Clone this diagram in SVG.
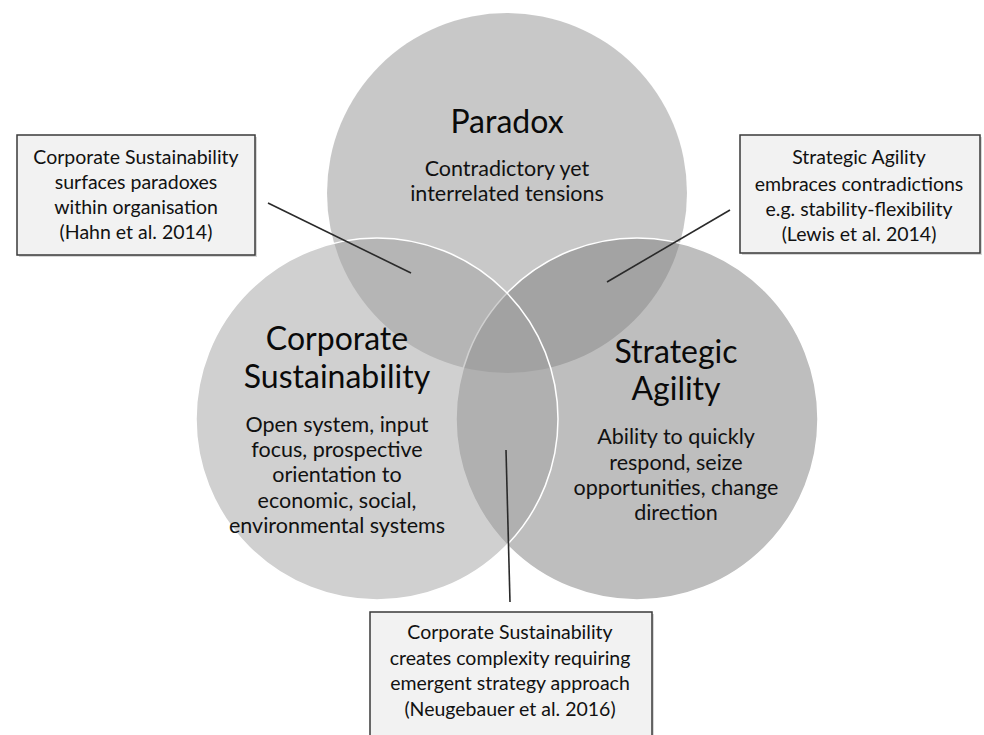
<svg xmlns="http://www.w3.org/2000/svg" width="984" height="735" viewBox="0 0 984 735">
<style>
  .circle { stroke: #ffffff; stroke-width: 1.5; fill-opacity: 0.5; }
  .title { font-family: Lato, "Open Sans", sans-serif; font-size: 32px; fill: #0a0a0a; text-anchor: middle; }
  .body { font-family: Lato, "Open Sans", sans-serif; font-size: 21.5px; fill: #111; text-anchor: middle; }
  .note { font-family: Lato, "Open Sans", sans-serif; font-size: 19.5px; fill: #111; text-anchor: middle; }
  .box { fill: #f2f2f2; stroke: #3a3a3a; stroke-width: 1.5; }
  .shadow { fill: #bdbdbd; opacity: 0.6; }
  .conn { stroke: #2a2a2a; stroke-width: 1.6; fill: none; }
</style>
<rect width="984" height="735" fill="#ffffff"/>
<g id="paradox">
  <circle cx="507" cy="193" r="180" fill="#919191" fill-opacity="0.5"/>
</g>
<g id="strategic-agility">
  <circle class="circle" cx="637" cy="419" r="181" fill="#7d7d7d"/>
</g>
<g id="corporate-sustainability">
  <circle class="circle" cx="377" cy="419" r="181" fill="#a1a1a1"/>
</g>
<g id="paradox-label">
  <text class="title" x="507" y="133">Paradox</text>
  <text class="body" x="507" y="176">Contradictory yet</text>
  <text class="body" x="507" y="201">interrelated tensions</text>
</g>
<g id="cs-label">
  <text class="title" x="337" y="350">Corporate</text>
  <text class="title" x="337" y="388">Sustainability</text>
  <text class="body" x="337" y="432">Open system, input</text>
  <text class="body" x="337" y="457">focus, prospective</text>
  <text class="body" x="337" y="482">orientation to</text>
  <text class="body" x="337" y="508">economic, social,</text>
  <text class="body" x="337" y="533">environmental systems</text>
</g>
<g id="sa-label">
  <text class="title" x="676" y="363">Strategic</text>
  <text class="title" x="676" y="400">Agility</text>
  <text class="body" x="676" y="444">Ability to quickly</text>
  <text class="body" x="676" y="470">respond, seize</text>
  <text class="body" x="676" y="495">opportunities, change</text>
  <text class="body" x="676" y="520">direction</text>
</g>
<g id="connectors">
  <line class="conn" x1="268" y1="203" x2="411" y2="273"/>
  <line class="conn" x1="730" y1="210" x2="607" y2="282"/>
  <line class="conn" x1="506" y1="450" x2="510" y2="602"/>
</g>
<g id="note-hahn">
  <rect class="shadow" x="19" y="137" width="238" height="120"/>
  <rect class="box" x="17" y="135" width="238" height="120"/>
  <text class="note" x="136" y="164">Corporate Sustainability</text>
  <text class="note" x="136" y="189">surfaces paradoxes</text>
  <text class="note" x="136" y="214">within organisation</text>
  <text class="note" x="136" y="239">(Hahn et al. 2014)</text>
</g>
<g id="note-lewis">
  <rect class="shadow" x="742" y="137" width="240" height="118"/>
  <rect class="box" x="740" y="135" width="240" height="118"/>
  <text class="note" x="859" y="164">Strategic Agility</text>
  <text class="note" x="859" y="191">embraces contradictions</text>
  <text class="note" x="859" y="216">e.g. stability-flexibility</text>
  <text class="note" x="859" y="241">(Lewis et al. 2014)</text>
</g>
<g id="note-neugebauer">
  <rect class="shadow" x="372" y="614" width="282" height="130"/>
  <rect class="box" x="370" y="612" width="282" height="130"/>
  <text class="note" x="510" y="639">Corporate Sustainability</text>
  <text class="note" x="510" y="665">creates complexity requiring</text>
  <text class="note" x="510" y="690">emergent strategy approach</text>
  <text class="note" x="510" y="716">(Neugebauer et al. 2016)</text>
</g>
</svg>
